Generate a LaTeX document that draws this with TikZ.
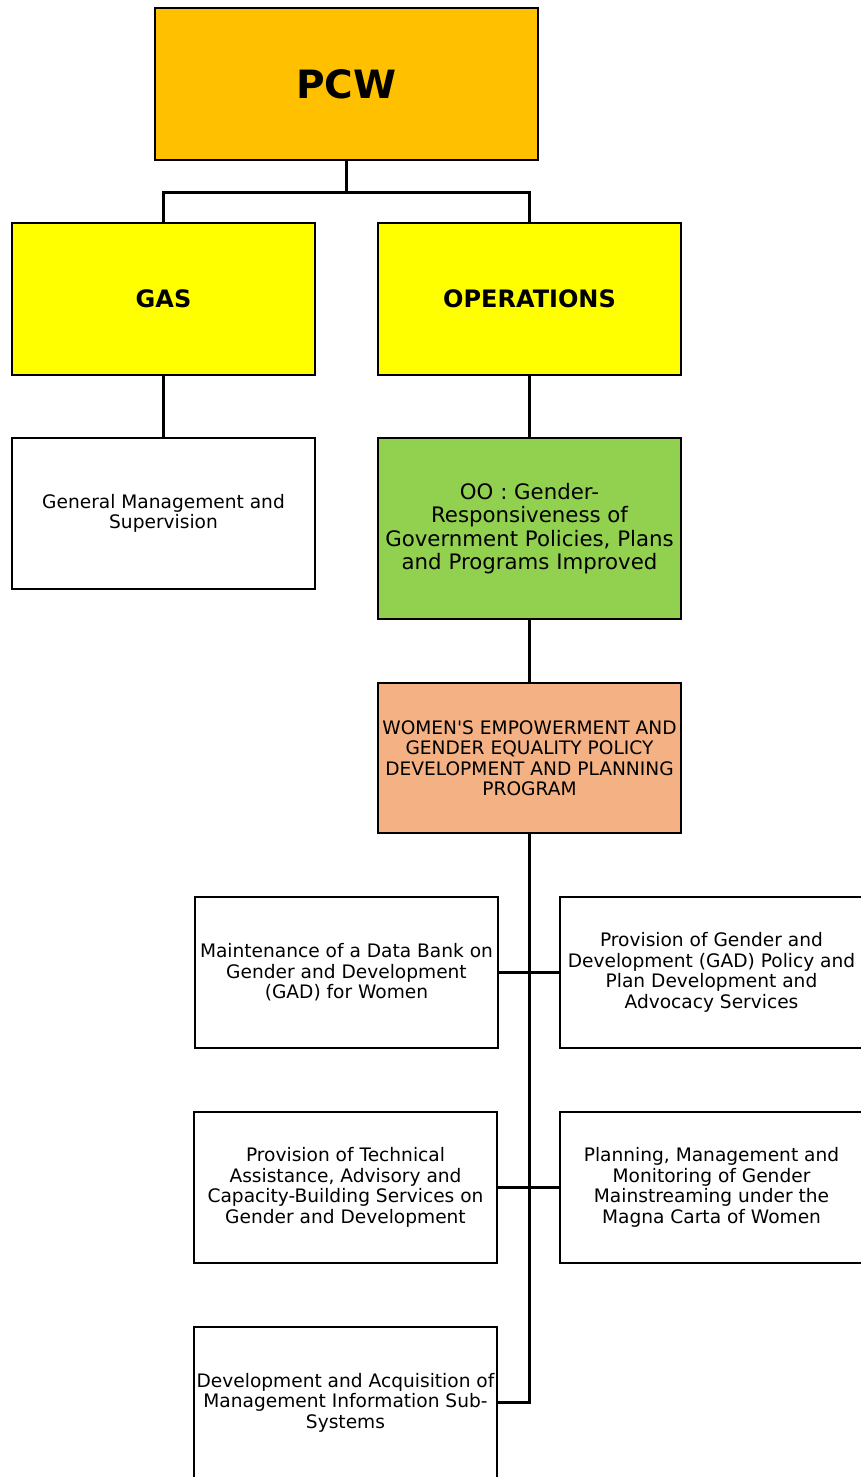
\documentclass[tikz,border=0pt]{standalone}
\usepackage{fontspec}
\setmainfont{DejaVu Sans}
\usetikzlibrary{calc}
\definecolor{pcwc}{HTML}{FFC000}
\definecolor{yelc}{HTML}{FFFF00}
\definecolor{grnc}{HTML}{92D050}
\definecolor{salc}{HTML}{F4B183}
\begin{document}
\begin{tikzpicture}[x=1pt,y=-1pt,
  box/.style={draw=black,line width=2.5pt,inner sep=0pt,align=center,minimum width=303pt,minimum height=151pt,font=\fontsize{18.6}{20.5}\selectfont},
  conn/.style={draw=black,line width=2.5pt}]
\useasboundingbox (0,0) rectangle (861,1477);
\node[box,fill=pcwc,minimum width=383pt,minimum height=152pt,font=\fontsize{39}{40}\selectfont\bfseries] (pcw) at (346.5,84) {PCW};
\node[box,fill=yelc,minimum height=152pt,font=\fontsize{24}{26}\selectfont\bfseries] (gas) at (163.5,299) {GAS};
\node[box,fill=yelc,minimum height=152pt,font=\fontsize{24}{26}\selectfont\bfseries] (ops) at (529.5,299) {OPERATIONS};
\node[box,fill=white] (gms) at (163.5,513.5) {General Management and\\Supervision};
\node[box,fill=grnc,minimum height=181pt,font=\fontsize{21.3}{23.5}\selectfont] (oo) at (529.5,528.5) {OO : Gender-\\Responsiveness of\\Government Policies, Plans\\and Programs Improved};
\node[box,fill=salc,minimum height=150pt] (wege) at (529.5,758) {WOMEN\textquotesingle S EMPOWERMENT AND\\GENDER EQUALITY POLICY\\DEVELOPMENT AND PLANNING\\PROGRAM};
\node[box,fill=white] (maint) at (346.5,972.5) {Maintenance of a Data Bank on\\Gender and Development\\(GAD) for Women};
\node[box,fill=white] (provgad) at (711.5,972.5) {Provision of Gender and\\Development (GAD) Policy and\\Plan Development and\\Advocacy Services};
\node[box,fill=white] (provtech) at (345.5,1187.5) {Provision of Technical\\Assistance, Advisory and\\Capacity-Building Services on\\Gender and Development};
\node[box,fill=white] (plan) at (711.5,1187.5) {Planning, Management and\\Monitoring of Gender\\Mainstreaming under the\\Magna Carta of Women};
\node[box,fill=white] (devacq) at (345.5,1402.5) {Development and Acquisition of\\Management Information Sub-\\Systems};
\coordinate (split) at ($(pcw.south)+(0,31)$);
\draw[conn] (pcw.south) -- (split) -| (gas.north);
\draw[conn] (split) -| (ops.north);
\draw[conn] (gas.south) -- (gms.north);
\draw[conn] (ops.south) -- (oo.north);
\draw[conn] (oo.south) -- (wege.north);
\draw[conn] (wege.south) |- (devacq.east);
\draw[conn] (maint.east) -- (provgad.west);
\draw[conn] (provtech.east) -- (plan.west);
\end{tikzpicture}
\end{document}
